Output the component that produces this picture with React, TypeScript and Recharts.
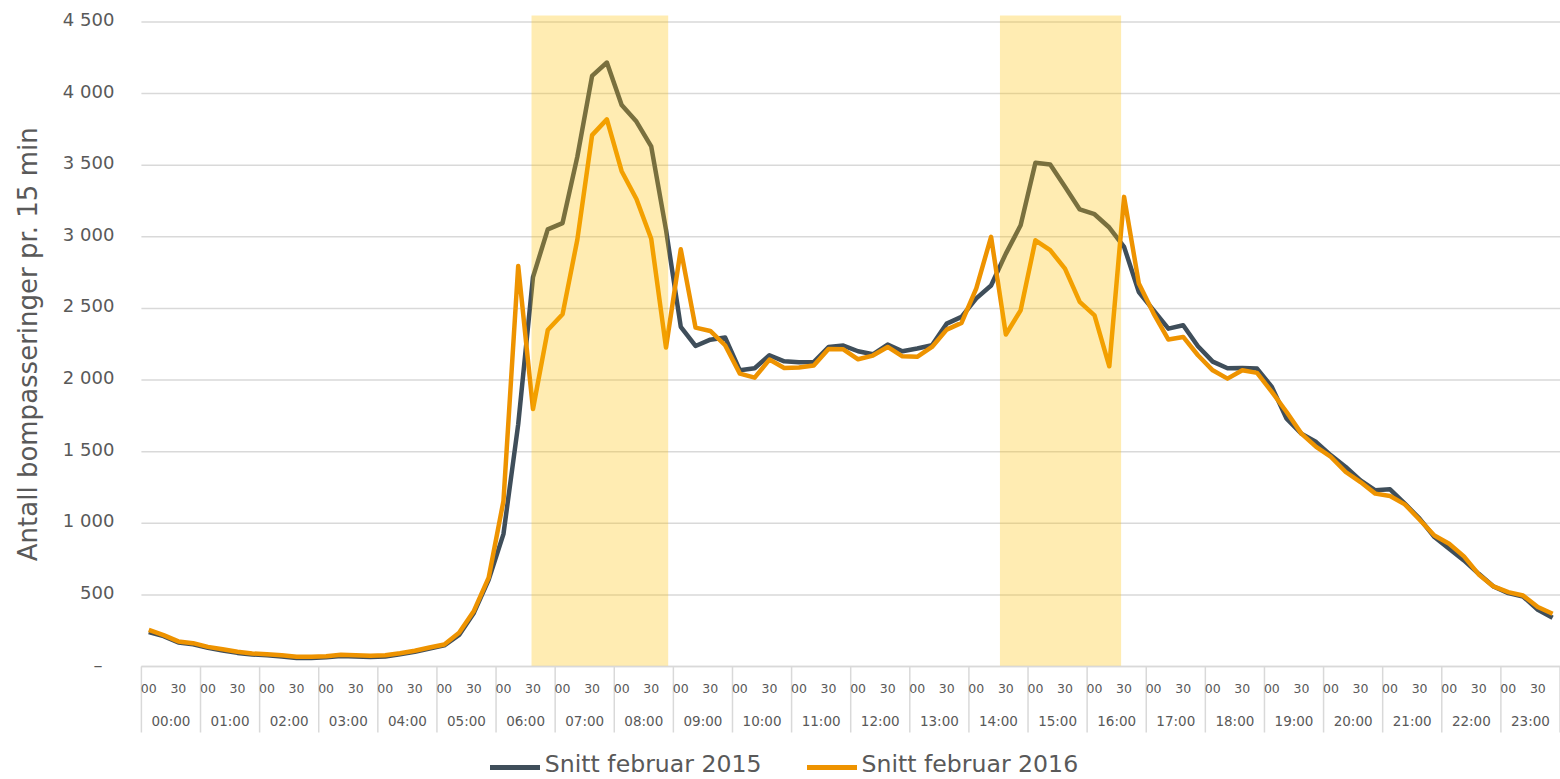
import { LineChart, Line, XAxis, YAxis, CartesianGrid, ReferenceArea } from "recharts"

// ── Data (15 min averages, index 0 = 00:00, 95 = 23:45) ─────────────────────

const HOURS = [
  "00:00", "01:00", "02:00", "03:00", "04:00", "05:00", "06:00", "07:00",
  "08:00", "09:00", "10:00", "11:00", "12:00", "13:00", "14:00", "15:00",
  "16:00", "17:00", "18:00", "19:00", "20:00", "21:00", "22:00", "23:00",
]
const HALF_LABELS = ["00", "30"]

const SNITT_2015 = [
  240, 212, 168, 155, 130, 112, 95, 84, 78, 70, 60, 60, 64, 74, 70, 66,
  70, 86, 102, 126, 148, 220, 374, 605, 924, 1691, 2719, 3052, 3096, 3559, 4124, 4217,
  3921, 3805, 3632, 3050, 2372, 2238, 2282, 2297, 2068, 2082, 2173, 2131, 2124, 2126, 2231, 2241,
  2201, 2180, 2248, 2201, 2220, 2243, 2394, 2441, 2570, 2660, 2883, 3081, 3517, 3505, 3349, 3191,
  3158, 3065, 2930, 2615, 2487, 2359, 2383, 2236, 2129, 2082, 2085, 2080, 1952, 1730, 1626, 1567,
  1474, 1393, 1300, 1230, 1237, 1137, 1032, 904, 822, 741, 647, 559, 512, 489, 396, 340,
]

const SNITT_2016 = [
  256, 219, 175, 163, 137, 121, 103, 91, 86, 79, 68, 68, 72, 82, 79, 75,
  79, 93, 110, 133, 154, 235, 388, 620, 1155, 2797, 1798, 2349, 2459, 2980, 3710, 3820,
  3458, 3264, 2986, 2227, 2913, 2366, 2343, 2243, 2045, 2017, 2143, 2084, 2087, 2101, 2217, 2215,
  2145, 2171, 2231, 2166, 2162, 2231, 2352, 2399, 2640, 3000, 2318, 2487, 2976, 2907, 2778, 2546,
  2452, 2096, 3279, 2674, 2464, 2283, 2301, 2173, 2068, 2010, 2068, 2050, 1917, 1777, 1626, 1533,
  1463, 1358, 1288, 1207, 1190, 1132, 1025, 915, 857, 769, 643, 559, 519, 496, 415, 368,
]

const Y_TICKS = [0, 500, 1000, 1500, 2000, 2500, 3000, 3500, 4000, 4500]

// rush hour bands, in slot index units
const BANDS = [
  { from: 25.9, to: 35.15 },
  { from: 57.6, to: 65.8 },
]

const data = SNITT_2015.map((v, i) => ({ i, s2015: v, s2016: SNITT_2016[i] }))

// boundaries between hours, 00/30 positions, hour centres
const X_TICKS = [
  ...HOURS.map((_, h) => h * 4 - 0.5), 95.5,
  ...HOURS.flatMap((_, h) => [h * 4, h * 4 + 2]),
  ...HOURS.map((_, h) => h * 4 + 1.5),
].sort((a, b) => a - b)

const DARK = "#3F4E5A"
const ORANGE = "#EE9300"
const TEXT = "#595959"
const GRID = "#D9D9D9"
const FONT = "'DejaVu Sans', Verdana, sans-serif"

const fmt = (v: number) => (v === 0 ? "–" : v.toLocaleString("en-US").replace(",", " "))

// ── Ticks ───────────────────────────────────────────────────────────────────

function XTick({ x, y, payload }: any) {
  const v = payload.value as number
  if ((v + 0.5) % 4 === 0) {
    return <line x1={x} x2={x} y1={y} y2={y + 66} stroke={GRID} strokeWidth={1.5} />
  }
  if (v % 2 === 0) {
    return (
      <text x={x} y={y + 26} textAnchor="middle" fontSize={12.5} fill={TEXT} fontFamily={FONT}>
        {HALF_LABELS[(v % 4) / 2]}
      </text>
    )
  }
  return (
    <text x={x} y={y + 59} textAnchor="middle" fontSize={13.5} fill={TEXT} fontFamily={FONT}>
      {HOURS[(v - 1.5) / 4]}
    </text>
  )
}

function YTick({ x, y, payload }: any) {
  const v = payload.value as number
  return (
    <text x={v === 0 ? x - 12 : x} y={y} dy={4} textAnchor="end" fontSize={18} fill={TEXT} fontFamily={FONT}>
      {fmt(v)}
    </text>
  )
}

function YLabel({ viewBox }: any) {
  const cy = viewBox.y + viewBox.height / 2
  return (
    <text
      x={28} y={cy}
      transform={`rotate(-90 28 ${cy})`}
      textAnchor="middle"
      dominantBaseline="central"
      fontSize={26}
      fill={TEXT}
      fontFamily={FONT}
    >
      Antall bompasseringer pr. 15 min
    </text>
  )
}

// ── Legend ──────────────────────────────────────────────────────────────────

function LegendItem({ color, label }: { color: string; label: string }) {
  return (
    <div style={{ display: "flex", alignItems: "center", gap: 5 }}>
      <span style={{ width: 50, height: 5, background: color, marginTop: 7 }} />
      <span style={{ fontSize: 23.6, color: TEXT, fontFamily: FONT }}>{label}</span>
    </div>
  )
}

export default function App() {
  return (
    <div style={{ position: "absolute", left: 0, top: 0, width: 1560, height: 779, background: "#fff" }}>
      <LineChart width={1560} height={779} data={data} margin={{ top: 22, right: 0, bottom: 34, left: 0 }}>
        <CartesianGrid vertical={false} stroke={GRID} strokeWidth={1.5} />
        <XAxis
          dataKey="i"
          type="number"
          domain={[-0.5, 95.5]}
          ticks={X_TICKS}
          interval={0}
          tick={<XTick />}
          tickLine={false}
          tickSize={0}
          tickMargin={0}
          axisLine={{ stroke: GRID, strokeWidth: 1.5 }}
          height={78.5}
          allowDataOverflow
        />
        <YAxis
          domain={[0, 4500]}
          ticks={Y_TICKS}
          interval={0}
          width={141.4}
          tick={<YTick />}
          tickLine={false}
          axisLine={false}
          tickSize={0}
          tickMargin={27}
          label={<YLabel />}
        />
        <Line
          type="linear"
          dataKey="s2015"
          stroke={DARK}
          strokeWidth={4.5}
          strokeLinejoin="round"
          dot={false}
          activeDot={false}
          isAnimationActive={false}
        />
        <Line
          type="linear"
          dataKey="s2016"
          stroke={ORANGE}
          strokeWidth={4.5}
          strokeLinejoin="round"
          dot={false}
          activeDot={false}
          isAnimationActive={false}
        />
        {BANDS.map((b, k) => (
          <ReferenceArea
            key={k}
            x1={b.from}
            x2={b.to}
            y1={0}
            y2={4545}
            ifOverflow="visible"
            fill="#FFC000"
            fillOpacity={0.3}
            stroke="none"
            {...({ zIndex: 450 } as any)}
          />
        ))}
      </LineChart>
      <div
        style={{
          position: "absolute", left: 0, top: 750, width: 1560,
          display: "flex", justifyContent: "center", gap: 45, paddingLeft: 4,
        }}
      >
        <LegendItem color={DARK} label="Snitt februar 2015" />
        <LegendItem color={ORANGE} label="Snitt februar 2016" />
      </div>
    </div>
  )
}
